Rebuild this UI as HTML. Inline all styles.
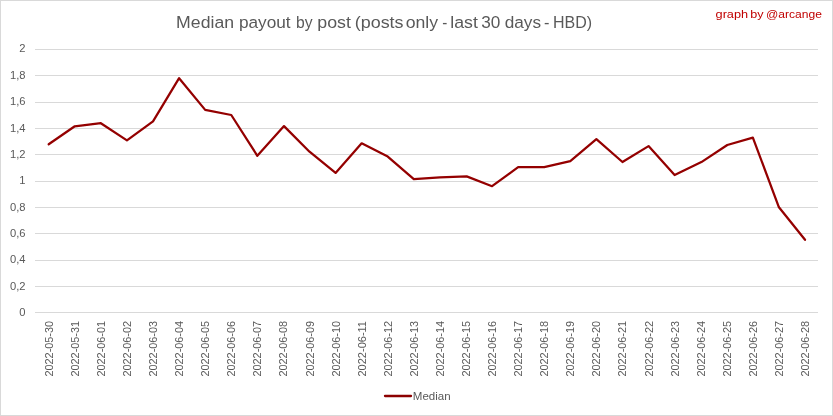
<!DOCTYPE html>
<html><head><meta charset="utf-8"><style>
html,body{margin:0;padding:0;background:#fff;}
body{width:833px;height:416px;overflow:hidden;}
svg{display:block;font-family:"Liberation Sans",sans-serif;}
</style></head><body>
<svg width="833" height="416" viewBox="0 0 833 416">
<defs><filter id="ga" filterUnits="userSpaceOnUse" x="0" y="0" width="833" height="416"><feOffset dx="0" dy="0"/></filter></defs>
<g filter="url(#ga)">
<rect x="0.5" y="0.5" width="832" height="415" fill="#fff" stroke="#d9d9d9" stroke-width="1"/>

<line x1="35" y1="49.5" x2="818" y2="49.5" stroke="#d9d9d9" stroke-width="1"/>
<line x1="35" y1="75.5" x2="818" y2="75.5" stroke="#d9d9d9" stroke-width="1"/>
<line x1="35" y1="102.5" x2="818" y2="102.5" stroke="#d9d9d9" stroke-width="1"/>
<line x1="35" y1="128.5" x2="818" y2="128.5" stroke="#d9d9d9" stroke-width="1"/>
<line x1="35" y1="154.5" x2="818" y2="154.5" stroke="#d9d9d9" stroke-width="1"/>
<line x1="35" y1="181.5" x2="818" y2="181.5" stroke="#d9d9d9" stroke-width="1"/>
<line x1="35" y1="207.5" x2="818" y2="207.5" stroke="#d9d9d9" stroke-width="1"/>
<line x1="35" y1="233.5" x2="818" y2="233.5" stroke="#d9d9d9" stroke-width="1"/>
<line x1="35" y1="260.5" x2="818" y2="260.5" stroke="#d9d9d9" stroke-width="1"/>
<line x1="35" y1="286.5" x2="818" y2="286.5" stroke="#d9d9d9" stroke-width="1"/>
<line x1="35" y1="312.5" x2="818" y2="312.5" stroke="#d9d9d9" stroke-width="1"/>
<text x="25.6" y="52.00" font-size="11.2" fill="#595959" text-anchor="end">2</text>
<text x="25.6" y="79.00" font-size="11.2" fill="#595959" text-anchor="end">1,8</text>
<text x="25.6" y="105.00" font-size="11.2" fill="#595959" text-anchor="end">1,6</text>
<text x="25.6" y="132.00" font-size="11.2" fill="#595959" text-anchor="end">1,4</text>
<text x="25.6" y="158.00" font-size="11.2" fill="#595959" text-anchor="end">1,2</text>
<text x="25.6" y="184.00" font-size="11.2" fill="#595959" text-anchor="end">1</text>
<text x="25.6" y="211.00" font-size="11.2" fill="#595959" text-anchor="end">0,8</text>
<text x="25.6" y="237.00" font-size="11.2" fill="#595959" text-anchor="end">0,6</text>
<text x="25.6" y="263.00" font-size="11.2" fill="#595959" text-anchor="end">0,4</text>
<text x="25.6" y="290.00" font-size="11.2" fill="#595959" text-anchor="end">0,2</text>
<text x="25.6" y="316.00" font-size="11.2" fill="#595959" text-anchor="end">0</text>
<text transform="translate(52.70,321) rotate(-90)" font-size="11.2" fill="#595959" text-anchor="end" textLength="55.5" lengthAdjust="spacingAndGlyphs">2022-05-30</text>
<text transform="translate(78.78,321) rotate(-90)" font-size="11.2" fill="#595959" text-anchor="end" textLength="55.5" lengthAdjust="spacingAndGlyphs">2022-05-31</text>
<text transform="translate(104.86,321) rotate(-90)" font-size="11.2" fill="#595959" text-anchor="end" textLength="55.5" lengthAdjust="spacingAndGlyphs">2022-06-01</text>
<text transform="translate(130.94,321) rotate(-90)" font-size="11.2" fill="#595959" text-anchor="end" textLength="55.5" lengthAdjust="spacingAndGlyphs">2022-06-02</text>
<text transform="translate(157.02,321) rotate(-90)" font-size="11.2" fill="#595959" text-anchor="end" textLength="55.5" lengthAdjust="spacingAndGlyphs">2022-06-03</text>
<text transform="translate(183.10,321) rotate(-90)" font-size="11.2" fill="#595959" text-anchor="end" textLength="55.5" lengthAdjust="spacingAndGlyphs">2022-06-04</text>
<text transform="translate(209.18,321) rotate(-90)" font-size="11.2" fill="#595959" text-anchor="end" textLength="55.5" lengthAdjust="spacingAndGlyphs">2022-06-05</text>
<text transform="translate(235.26,321) rotate(-90)" font-size="11.2" fill="#595959" text-anchor="end" textLength="55.5" lengthAdjust="spacingAndGlyphs">2022-06-06</text>
<text transform="translate(261.34,321) rotate(-90)" font-size="11.2" fill="#595959" text-anchor="end" textLength="55.5" lengthAdjust="spacingAndGlyphs">2022-06-07</text>
<text transform="translate(287.42,321) rotate(-90)" font-size="11.2" fill="#595959" text-anchor="end" textLength="55.5" lengthAdjust="spacingAndGlyphs">2022-06-08</text>
<text transform="translate(313.50,321) rotate(-90)" font-size="11.2" fill="#595959" text-anchor="end" textLength="55.5" lengthAdjust="spacingAndGlyphs">2022-06-09</text>
<text transform="translate(339.58,321) rotate(-90)" font-size="11.2" fill="#595959" text-anchor="end" textLength="55.5" lengthAdjust="spacingAndGlyphs">2022-06-10</text>
<text transform="translate(365.66,321) rotate(-90)" font-size="11.2" fill="#595959" text-anchor="end" textLength="55.5" lengthAdjust="spacingAndGlyphs">2022-06-11</text>
<text transform="translate(391.74,321) rotate(-90)" font-size="11.2" fill="#595959" text-anchor="end" textLength="55.5" lengthAdjust="spacingAndGlyphs">2022-06-12</text>
<text transform="translate(417.82,321) rotate(-90)" font-size="11.2" fill="#595959" text-anchor="end" textLength="55.5" lengthAdjust="spacingAndGlyphs">2022-06-13</text>
<text transform="translate(443.90,321) rotate(-90)" font-size="11.2" fill="#595959" text-anchor="end" textLength="55.5" lengthAdjust="spacingAndGlyphs">2022-06-14</text>
<text transform="translate(469.98,321) rotate(-90)" font-size="11.2" fill="#595959" text-anchor="end" textLength="55.5" lengthAdjust="spacingAndGlyphs">2022-06-15</text>
<text transform="translate(496.06,321) rotate(-90)" font-size="11.2" fill="#595959" text-anchor="end" textLength="55.5" lengthAdjust="spacingAndGlyphs">2022-06-16</text>
<text transform="translate(522.14,321) rotate(-90)" font-size="11.2" fill="#595959" text-anchor="end" textLength="55.5" lengthAdjust="spacingAndGlyphs">2022-06-17</text>
<text transform="translate(548.22,321) rotate(-90)" font-size="11.2" fill="#595959" text-anchor="end" textLength="55.5" lengthAdjust="spacingAndGlyphs">2022-06-18</text>
<text transform="translate(574.30,321) rotate(-90)" font-size="11.2" fill="#595959" text-anchor="end" textLength="55.5" lengthAdjust="spacingAndGlyphs">2022-06-19</text>
<text transform="translate(600.38,321) rotate(-90)" font-size="11.2" fill="#595959" text-anchor="end" textLength="55.5" lengthAdjust="spacingAndGlyphs">2022-06-20</text>
<text transform="translate(626.46,321) rotate(-90)" font-size="11.2" fill="#595959" text-anchor="end" textLength="55.5" lengthAdjust="spacingAndGlyphs">2022-06-21</text>
<text transform="translate(652.54,321) rotate(-90)" font-size="11.2" fill="#595959" text-anchor="end" textLength="55.5" lengthAdjust="spacingAndGlyphs">2022-06-22</text>
<text transform="translate(678.62,321) rotate(-90)" font-size="11.2" fill="#595959" text-anchor="end" textLength="55.5" lengthAdjust="spacingAndGlyphs">2022-06-23</text>
<text transform="translate(704.70,321) rotate(-90)" font-size="11.2" fill="#595959" text-anchor="end" textLength="55.5" lengthAdjust="spacingAndGlyphs">2022-06-24</text>
<text transform="translate(730.78,321) rotate(-90)" font-size="11.2" fill="#595959" text-anchor="end" textLength="55.5" lengthAdjust="spacingAndGlyphs">2022-06-25</text>
<text transform="translate(756.86,321) rotate(-90)" font-size="11.2" fill="#595959" text-anchor="end" textLength="55.5" lengthAdjust="spacingAndGlyphs">2022-06-26</text>
<text transform="translate(782.94,321) rotate(-90)" font-size="11.2" fill="#595959" text-anchor="end" textLength="55.5" lengthAdjust="spacingAndGlyphs">2022-06-27</text>
<text transform="translate(809.02,321) rotate(-90)" font-size="11.2" fill="#595959" text-anchor="end" textLength="55.5" lengthAdjust="spacingAndGlyphs">2022-06-28</text>
<polyline points="48.70,144.30 74.78,126.30 100.86,123.20 126.94,140.40 153.02,121.40 179.10,78.20 205.18,109.90 231.26,115.00 257.34,155.80 284.02,126.10 309.50,151.70 335.58,172.90 361.66,143.30 387.74,156.60 413.82,179.20 439.90,177.40 466.68,176.40 492.06,186.20 518.14,167.10 544.22,167.10 570.30,161.20 596.38,139.20 622.46,162.00 648.54,146.10 674.62,175.00 701.40,162.10 727.28,145.00 752.86,137.60 778.94,207.30 805.02,239.80" fill="none" stroke="#940000" stroke-width="2.25" stroke-linejoin="round" stroke-linecap="round"/>
<text x="176.14" y="27.8" font-size="16.3" fill="#595959" textLength="57.91" lengthAdjust="spacingAndGlyphs">Median</text>
<text x="238.94" y="27.8" font-size="16.3" fill="#595959" textLength="51.7" lengthAdjust="spacingAndGlyphs">payout</text>
<text x="296.07" y="27.8" font-size="16.3" fill="#595959" textLength="16.53" lengthAdjust="spacingAndGlyphs">by</text>
<text x="317.29" y="27.8" font-size="16.3" fill="#595959" textLength="33.65" lengthAdjust="spacingAndGlyphs">post</text>
<text x="354.76" y="27.8" font-size="16.3" fill="#595959" textLength="48.8" lengthAdjust="spacingAndGlyphs">(posts</text>
<text x="405.74" y="27.8" font-size="16.3" fill="#595959" textLength="32.38" lengthAdjust="spacingAndGlyphs">only</text>
<text x="442.26" y="27.8" font-size="16.3" fill="#595959" textLength="5.05" lengthAdjust="spacingAndGlyphs">-</text>
<text x="450.31" y="27.8" font-size="16.3" fill="#595959" textLength="27.59" lengthAdjust="spacingAndGlyphs">last</text>
<text x="481.21" y="27.8" font-size="16.3" fill="#595959" textLength="19.14" lengthAdjust="spacingAndGlyphs">30</text>
<text x="504.71" y="27.8" font-size="16.3" fill="#595959" textLength="36.36" lengthAdjust="spacingAndGlyphs">days</text>
<text x="543.91" y="27.8" font-size="16.3" fill="#595959" textLength="5.43" lengthAdjust="spacingAndGlyphs">-</text>
<text x="553.02" y="27.8" font-size="16.3" fill="#595959" textLength="39.06" lengthAdjust="spacingAndGlyphs">HBD)</text>
<text x="715.56" y="17.8" font-size="11.7" fill="#c00000" textLength="32.59" lengthAdjust="spacingAndGlyphs">graph</text>
<text x="750.34" y="17.8" font-size="11.7" fill="#c00000" textLength="13.3" lengthAdjust="spacingAndGlyphs">by</text>
<text x="765.95" y="17.8" font-size="11.7" fill="#c00000" textLength="55.93" lengthAdjust="spacingAndGlyphs">@arcange</text>
<line x1="385" y1="396" x2="411" y2="396" stroke="#8c0000" stroke-width="2.3" stroke-linecap="round"/>
<text x="412.85" y="399.9" font-size="11" fill="#595959" textLength="37.85" lengthAdjust="spacingAndGlyphs">Median</text>
</g></svg>
</body></html>
